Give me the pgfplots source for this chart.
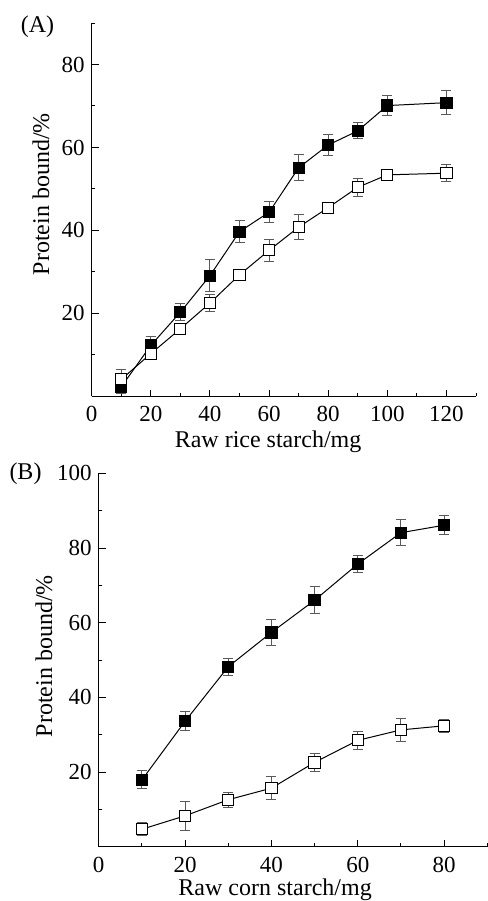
\documentclass[border=0pt]{standalone}
\usepackage{fontspec}
\setmainfont{Liberation Serif}
\usepackage{pgfplots}
\pgfplotsset{compat=1.18}

\pgfplotsset{
  starch/.style={
    scale only axis,
    axis lines=left,
    axis line style={-, line width=0.6pt},
    tick align=inside,
    major tick length=3.4pt,
    minor tick length=1.8pt,
    tick style={black, line width=0.5pt},
    /pgf/number format/assume math mode=true,
    tick label style={font=\fontsize{11.5}{13}\selectfont},
    xticklabel style={yshift=-1.5pt},
    label style={font=\fontsize{12}{14}\selectfont},
    clip=false,
  },
  full/.style={black, line width=0.5pt, mark=square*, mark size=2.8pt,
    mark options={fill=black, draw=black},
    error bars/.cd, y dir=both, y explicit,
    error bar style={black!65, line width=0.5pt},
    error mark options={rotate=90, mark size=2.5pt, black!65, line width=0.5pt}},
  open/.style={black, line width=0.5pt, mark=square*, mark size=2.8pt,
    mark options={fill=white, draw=black},
    error bars/.cd, y dir=both, y explicit,
    error bar style={black!65, line width=0.5pt},
    error mark options={rotate=90, mark size=2.5pt, black!65, line width=0.5pt}},
}

\begin{document}
\begin{tikzpicture}
\path[use as bounding box] (0,0) rectangle (244pt,-450.5pt);

% (A) raw rice starch
\begin{axis}[starch,
  at={(45.85pt,-198.2pt)}, anchor=origin,
  width=192.15pt, height=186.7pt,
  xmin=0, xmax=130, ymin=0, ymax=90,
  xtick={0,20,...,120},
  minor xtick={10,30,...,130},
  ytick={20,40,60,80},
  minor ytick={10,30,...,90},
  xlabel={Raw rice starch/mg},
  ylabel={Protein bound/\%},
  xlabel style={at={(axis description cs:0.459,-0.137)}, anchor=base},
  ylabel style={at={(axis description cs:-0.132,0.542)}, anchor=center},
]
\addplot[full] coordinates {
  (10,2.3) +- (0,1.5)
  (20,12.3) +- (0,2.2)
  (30,20.3) +- (0,2.1)
  (40,29.1) +- (0,3.9)
  (50,39.7) +- (0,2.7)
  (60,44.4) +- (0,2.6)
  (70,55.1) +- (0,3.1)
  (80,60.6) +- (0,2.5)
  (90,64.0) +- (0,1.9)
  (100,70.1) +- (0,2.4)
  (120,70.8) +- (0,2.9)
};
\addplot[open] coordinates {
  (10,4.1) +- (0,2.3)
  (20,10.3) +- (0,1.0)
  (30,16.3) +- (0,1.0)
  (40,22.5) +- (0,2.0)
  (50,29.3) +- (0,1.2)
  (60,35.2) +- (0,2.6)
  (70,40.8) +- (0,3.0)
  (80,45.5) +- (0,0.8)
  (90,50.4) +- (0,2.2)
  (100,53.4) +- (0,1.0)
  (120,53.8) +- (0,2.0)
};
\end{axis}

% (B) raw corn starch
\begin{axis}[starch,
  at={(49.35pt,-423.4pt)}, anchor=origin,
  width=194.3pt, height=186.75pt,
  xmin=0, xmax=90, ymin=0, ymax=100,
  xtick={0,20,...,80},
  minor xtick={10,30,...,90},
  ytick={20,40,...,100},
  minor ytick={10,30,...,90},
  xlabel={Raw corn starch/mg},
  ylabel={Protein bound/\%},
  xlabel style={at={(axis description cs:0.454,-0.131)}, anchor=base},
  ylabel style={at={(axis description cs:-0.141,0.51)}, anchor=center},
]
\addplot[full] coordinates {
  (10,17.9) +- (0,2.4)
  (20,33.6) +- (0,2.5)
  (30,48.2) +- (0,2.2)
  (40,57.4) +- (0,3.4)
  (50,66.0) +- (0,3.6)
  (60,75.7) +- (0,2.2)
  (70,84.1) +- (0,3.5)
  (80,86.1) +- (0,2.5)
};
\addplot[open] coordinates {
  (10,4.7) +- (0,1.8)
  (20,8.3) +- (0,3.8)
  (30,12.6) +- (0,2.0)
  (40,15.7) +- (0,3.0)
  (50,22.6) +- (0,2.5)
  (60,28.5) +- (0,2.5)
  (70,31.3) +- (0,3.0)
  (80,32.4) +- (0,1.8)
};
\end{axis}

\node[font=\fontsize{12}{14}\selectfont] at (18.75pt,-13.5pt) {(A)};
\node[font=\fontsize{12}{14}\selectfont] at (12.75pt,-237pt) {(B)};
\end{tikzpicture}
\end{document}
